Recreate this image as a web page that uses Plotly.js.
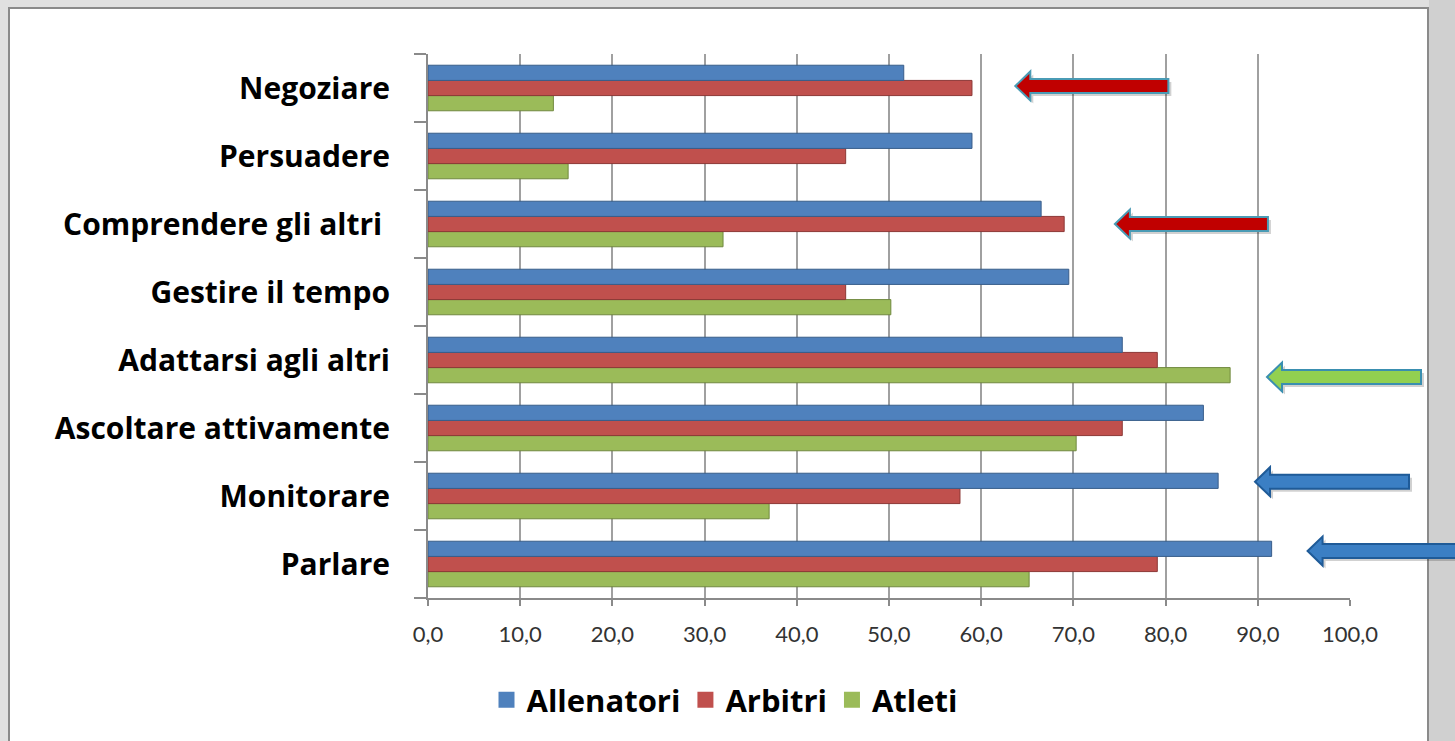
<!DOCTYPE html>
<html>
<head>
<meta charset="utf-8">
<script src="https://cdn.plot.ly/plotly-3.0.1.min.js"></script>
<style>
html,body{margin:0;padding:0;background:#e0e0e0;}
#chart{width:1455px;height:741px;}
</style>
</head>
<body>
<div id="chart"></div>
<script>
// ---- data ----
const categories = ["Parlare","Monitorare","Ascoltare attivamente","Adattarsi agli altri","Gestire il tempo","Comprendere gli altri\u00a0","Persuadere","Negoziare"];
const allenatori = [91.5, 85.7, 84.1, 75.3, 69.5, 66.5, 59.0, 51.6];
const arbitri    = [79.1, 57.7, 75.3, 79.1, 45.3, 69.0, 45.3, 59.0];
const atleti     = [65.2, 37.0, 70.3, 87.0, 50.2, 32.0, 15.2, 13.6];
const seriesNames = ["Allenatori","Arbitri","Atleti"];
const xTicks = [0,10,20,30,40,50,60,70,80,90,100];
const xTickLabels = ["0,0","10,0","20,0","30,0","40,0","50,0","60,0","70,0","80,0","90,0","100,0"];
// highlight arrows: category, tip value, tail value, vertical offset (category units, + = down), colour
const arrowCats  = ["Negoziare","Comprendere gli altri\u00a0","Adattarsi agli altri","Monitorare","Parlare"];
const arrowTip   = [63.7, 74.5, 91.0, 89.7, 95.4];
const arrowTail  = [80.3, 91.1, 107.7, 106.4, 112.5];
const arrowDy    = [-0.03, 0.0, 0.25, -0.21, -0.19];
const arrowFill  = ["#c00000","#c00000","#92d050","#3b7fc4","#3b7fc4"];
const arrowLine  = ["#4a9bb5","#4a9bb5","#3a8fb0","#1f5b98","#1f5b98"];

// ---- layout geometry ----
const W = 1455, H = 741;
const M = {l:428, r:105, t:54, b:143};
const PW = W - M.l - M.r, PH = H - M.t - M.b;
const px2x = p => (p - M.l) / PW;        // pixel -> paper x
const py2y = p => (H - M.b - p) / PH;    // pixel -> paper y
const nCat = categories.length;
const catY = (name, dy) => (categories.indexOf(name) + 0.5 - dy) / nCat; // paper y

const colors = ["#4f81bd","#c0504d","#9bbb59"];
const edges  = ["#385d8a","#8c3836","#71893f"];
const vals = [allenatori, arbitri, atleti];

const traces = [];
for (let i = 2; i >= 0; i--) {
  traces.push({
    type: 'bar', orientation: 'h', name: seriesNames[i], showlegend: false,
    y: categories, x: vals[i],
    marker: {color: colors[i], line: {color: edges[i], width: 1}},
    hoverinfo: 'x+y'
  });
}
// legend entries (square swatches)
for (let i = 0; i < 3; i++) {
  traces.push({
    type: 'scatter', mode: 'markers', name: seriesNames[i],
    x: [null], y: [null], showlegend: true,
    marker: {symbol: 'square', size: 20, color: colors[i]}
  });
}

const shapes = [];
// outer frame
shapes.push({type:'rect', xref:'paper', yref:'paper', layer:'below',
  x0: px2x(1429), x1: px2x(1455), y0: py2y(-5), y1: py2y(760),
  fillcolor:'#d0d0d0', line:{width:0}});
shapes.push({type:'rect', xref:'paper', yref:'paper', layer:'below',
  x0: px2x(9), x1: px2x(1428), y0: py2y(8), y1: py2y(760),
  fillcolor:'#ffffff', line:{color:'#8a8a8a', width:2}});

// arrows
const headLen = 15 / PW * 100;
for (let k = 0; k < arrowCats.length; k++) {
  const yc = catY(arrowCats[k], arrowDy[k]);
  const hs = 7 / PH, hh = 14.5 / PH;
  const tip = arrowTip[k] / 100, tail = arrowTail[k] / 100, neck = (arrowTip[k] + headLen) / 100;
  const mk = (ox, oy) => `M${tip+ox},${yc+oy} L${neck+ox},${yc+hh+oy} L${neck+ox},${yc+hs+oy} L${tail+ox},${yc+hs+oy} L${tail+ox},${yc-hs+oy} L${neck+ox},${yc-hs+oy} L${neck+ox},${yc-hh+oy} Z`;
  shapes.push({type:'path', xref:'paper', yref:'paper', path: mk(3/PW, -3/PH),
    fillcolor:'rgba(0,0,0,0.18)', line:{width:0}});
  shapes.push({type:'path', xref:'paper', yref:'paper', path: mk(0,0),
    fillcolor: arrowFill[k], line:{color: arrowLine[k], width:2}});
}

const layout = {
  width: W, height: H,
  margin: M,
  paper_bgcolor: '#e0e0e0',
  plot_bgcolor: 'rgba(0,0,0,0)',
  barmode: 'group', bargap: 0.33, bargroupgap: 0,
  font: {family: '"Open Sans", Lato, sans-serif', color: '#000'},
  xaxis: {
    range: [0, 100], tickvals: xTicks, ticktext: xTickLabels,
    showgrid: true, gridcolor: '#a0a0a0', gridwidth: 2,
    zeroline: false, showline: true, linecolor: '#8a8a8a', linewidth: 2,
    ticks: 'outside', ticklen: 6, tickcolor: '#8a8a8a', tickwidth: 2,
    ticklabelstandoff: 10,
    tickfont: {family: 'Lato, sans-serif', size: 22, color: '#333'}, fixedrange: true
  },
  yaxis: {
    range: [-0.5, nCat - 0.5], type: 'category',
    showgrid: false, zeroline: false, showline: true, linecolor: '#8a8a8a', linewidth: 2,
    ticks: 'outside', tickson: 'boundaries', ticklen: 12, tickcolor: '#8a8a8a', tickwidth: 2,
    ticklabelstandoff: 30,
    tickfont: {size: 30, weight: 'bold', color: '#000'}, fixedrange: true
  },
  legend: {
    orientation: 'h', x: px2x(725), xanchor: 'center', y: py2y(700), yanchor: 'middle',
    font: {size: 31, weight: 'bold', color: '#000'},
    bgcolor: 'rgba(0,0,0,0)', itemwidth: 30
  },
  showlegend: true,
  shapes: shapes
};

Plotly.newPlot('chart', traces, layout, {displayModeBar: false, staticPlot: true});
</script>
</body>
</html>
